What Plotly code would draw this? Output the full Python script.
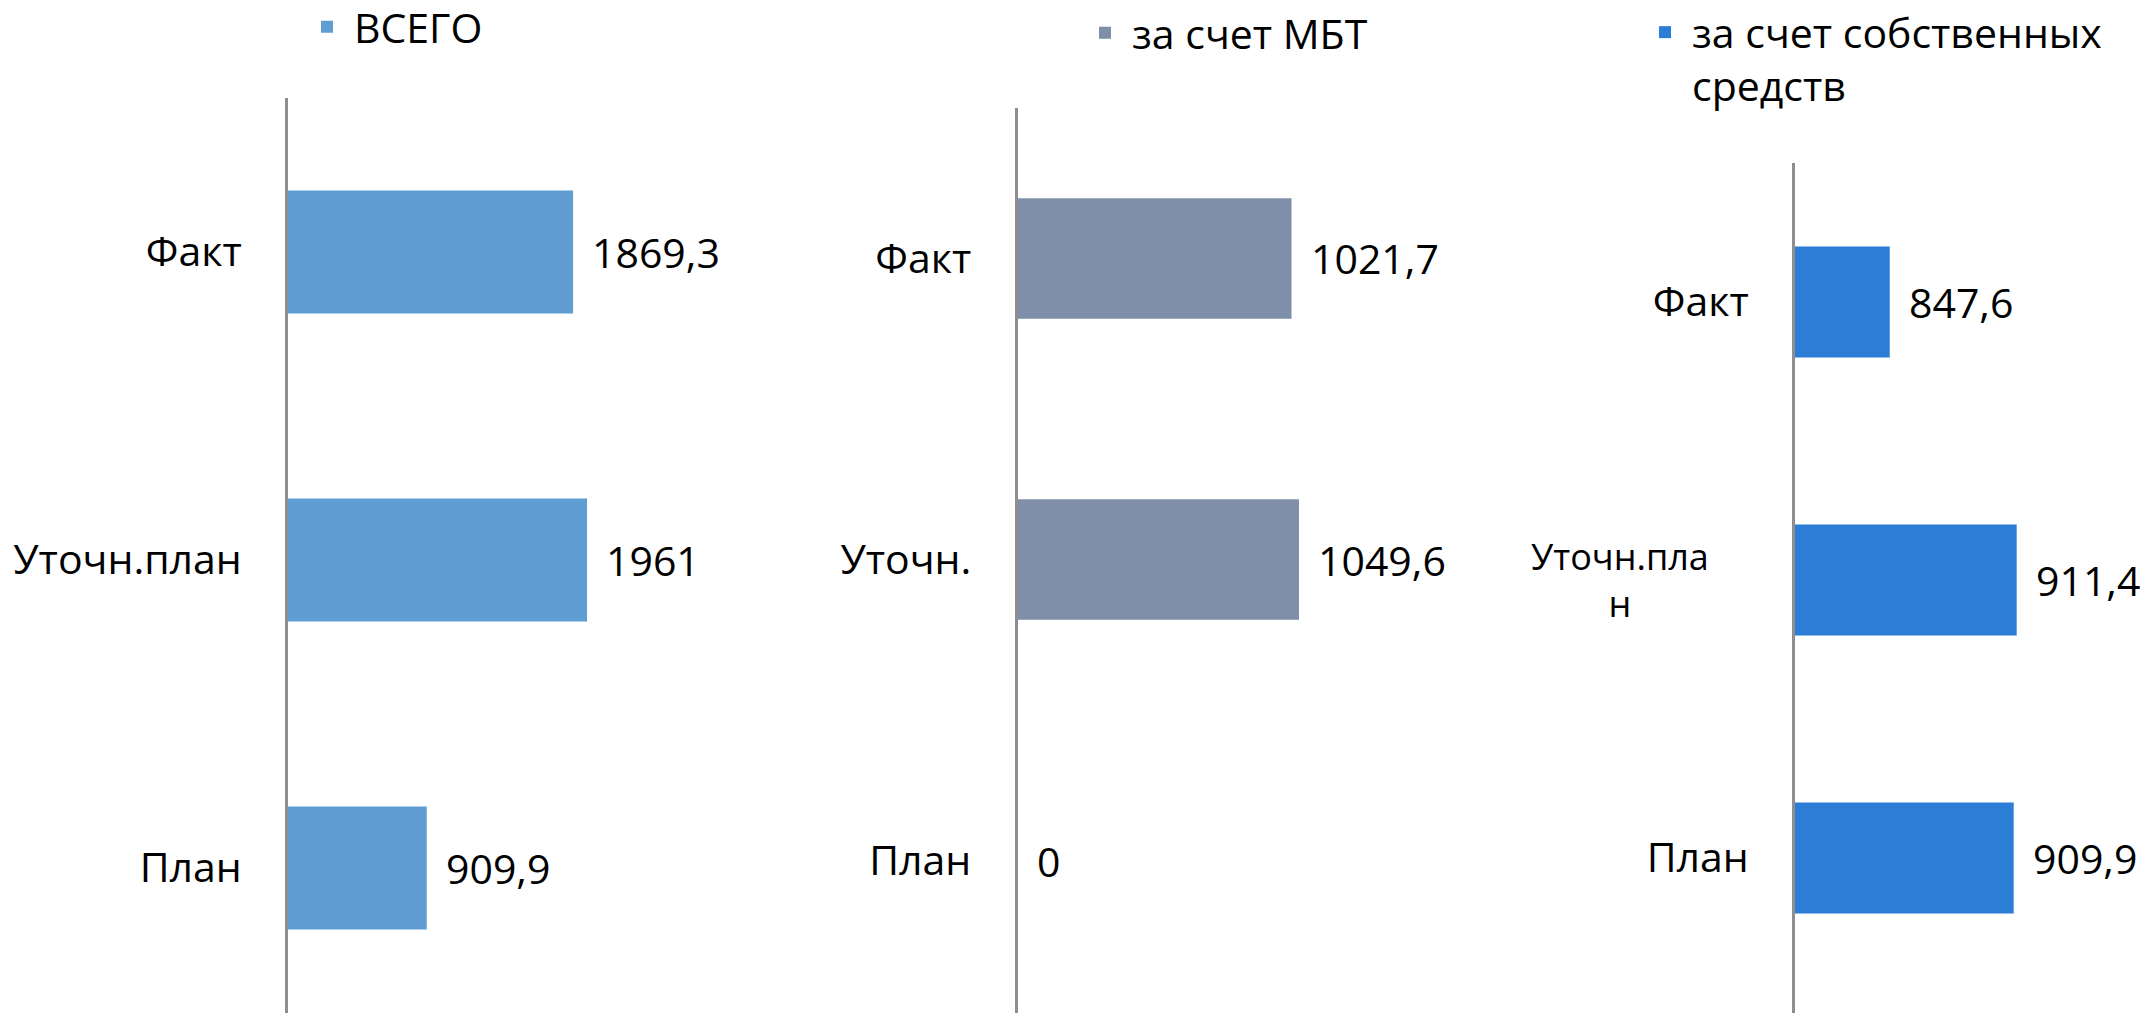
import plotly.graph_objects as go

# ---- data ----
categories = ["План", "Уточн.план", "Факт"]
total_values = [909.9, 1961, 1869.3]          # ВСЕГО
mbt_values = [0, 1049.6, 1021.7]               # за счет МБТ
own_values = [909.9, 911.4, 847.6]             # за счет собственных средств

series_names = ["ВСЕГО", "за счет МБТ", "за счет собственных<br>средств"]
tick_labels_1 = ["План", "Уточн.план", "Факт"]
tick_labels_2 = ["План", "Уточн.", "Факт"]
tick_labels_3 = ["План", "", "Факт"]
wrapped_label_3 = "Уточн.пла<br>н"

colors = ["#609DD2", "#7F8FA9", "#2B7DD6"]
FONT = "Open Sans"
W, H = 2149, 1013


def fmt(v):
    return f"{v:g}".replace(".", ",")


fig = go.Figure()
all_values = [total_values, mbt_values, own_values]
legend_ids = ["legend", "legend2", "legend3"]
for i, vals in enumerate(all_values):
    sfx = "" if i == 0 else str(i + 1)
    fig.add_trace(go.Bar(
        x=vals, y=categories, orientation="h",
        name=series_names[i], marker=dict(color=colors[i], line=dict(width=0)),
        xaxis="x" + sfx, yaxis="y" + sfx, legend=legend_ids[i],
        hoverinfo="x+y",
    ))
    for v, c in zip(vals, categories):
        fig.add_annotation(x=v, y=c, xref="x" + sfx, yref="y" + sfx,
                           text=fmt(v), showarrow=False, xanchor="left",
                           xshift=17, font=dict(family=FONT, size=41, color="#000"))

# panel geometry (pixels)
axis_left = [288, 1017.5, 1795]
axis_right = [780, 1500, 2149]
plot_top = [98, 108, 163]
px_per_unit = [0.1525, 0.2682, 1.99]
x_min = [0, 0, 800]
band_px = [308, 301, 278]
ticks = [tick_labels_1, tick_labels_2, tick_labels_3]

layout = dict(
    width=W, height=H, margin=dict(l=0, r=0, t=0, b=0, autoexpand=False),
    paper_bgcolor="white", plot_bgcolor="rgba(0,0,0,0)",
    bargap=0.6, font=dict(family=FONT, color="#000"),
    showlegend=True,
)
for i in range(3):
    sfx = "" if i == 0 else str(i + 1)
    x0 = axis_left[i] / W
    x1 = axis_right[i] / W
    width_units = (axis_right[i] - axis_left[i]) / px_per_unit[i]
    layout["xaxis" + sfx] = dict(
        domain=[x0, x1], range=[x_min[i], x_min[i] + width_units],
        visible=False, anchor="y" + sfx, fixedrange=True,
    )
    ybottom = 2.5 - (H - plot_top[i]) / band_px[i]
    layout["yaxis" + sfx] = dict(
        domain=[0, 1 - plot_top[i] / H], range=[ybottom, 2.5],
        type="category", anchor="x" + sfx,
        tickmode="array", tickvals=categories, ticktext=ticks[i],
        showline=True, linecolor="#8E8E8E", linewidth=3,
        showgrid=False, zeroline=False, ticks="", ticklabelstandoff=35,
        tickfont=dict(family=FONT, size=41, color="#000"), fixedrange=True,
    )

leg_font = dict(family=FONT, size=41, color="#000")
layout["legend"] = dict(x=300 / W, y=1 - 27 / H, xanchor="left", yanchor="middle",
                        font=leg_font, itemwidth=44, bgcolor="rgba(0,0,0,0)")
layout["legend2"] = dict(x=1078 / W, y=1 - 33 / H, xanchor="left", yanchor="middle",
                         font=leg_font, itemwidth=44, bgcolor="rgba(0,0,0,0)")
layout["legend3"] = dict(x=1638 / W, y=1 + 1 / H, xanchor="left", yanchor="top",
                         font=leg_font, itemwidth=44, valign="top", bgcolor="rgba(0,0,0,0)")

fig.update_layout(**layout)

fig.add_annotation(x=1620 / W, y="Уточн.план", xref="paper", yref="y3",
                   text=wrapped_label_3, showarrow=False, align="center",
                   xanchor="center", yanchor="middle",
                   font=dict(family=FONT, size=36, color="#000"))

fig.write_html("out.html", config={"displayModeBar": False},
               post_script="document.body.style.margin='0';document.body.style.overflow='hidden';")
